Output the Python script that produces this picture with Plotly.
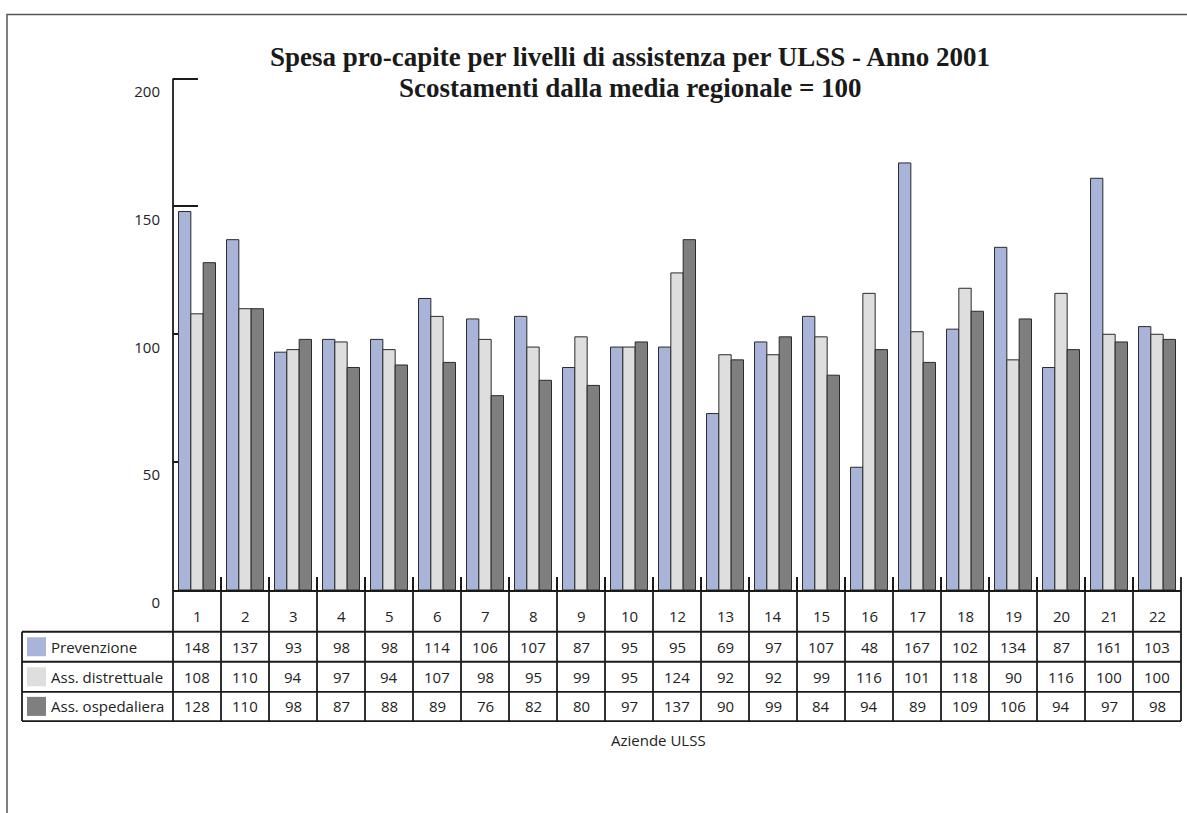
import plotly.graph_objects as go

# ---------------- data ----------------
categories = ["1", "2", "3", "4", "5", "6", "7", "8", "9", "10", "12", "13",
              "14", "15", "16", "17", "18", "19", "20", "21", "22"]
prevenzione = [148, 137, 93, 98, 98, 114, 106, 107, 87, 95, 95, 69, 97, 107,
               48, 167, 102, 134, 87, 161, 103]
distrettuale = [108, 110, 94, 97, 94, 107, 98, 95, 99, 95, 124, 92, 92, 99,
                116, 101, 118, 90, 116, 100, 100]
ospedaliera = [128, 110, 98, 87, 88, 89, 76, 82, 80, 97, 137, 90, 99, 84, 94,
               89, 109, 106, 94, 97, 98]
series_names = ["Prevenzione", "Ass. distrettuale", "Ass. ospedaliera"]
y_ticks = [0, 50, 100, 150, 200]
title_lines = ["Spesa pro-capite per livelli di assistenza per ULSS - Anno 2001",
               "Scostamenti dalla media regionale = 100"]
x_title = "Aziende ULSS"

# ---------------- styles ----------------
W, H = 1187, 813
Y_MAX = 201
L, R, B = 173, 1181, 590
Y_TOP = 79  # pixel row of the 200 tick
T = Y_TOP - (Y_MAX - 200) * (B - Y_TOP) / 200.0
colors = ["#A9B4D9", "#DEDEDE", "#7F7F7F"]
LINE = "#1a1a1a"
TXT = "#222222"
SANS = "Open Sans, Lato, sans-serif"
SERIF = "Liberation Serif, Times New Roman, serif"


def px(xp):
    return (xp - L) / (R - L)


def py(yp):
    return (B - yp) / (B - T)


fig = go.Figure()
for name, vals, c in zip(series_names, [prevenzione, distrettuale, ospedaliera], colors):
    fig.add_trace(go.Bar(
        x=categories, y=vals, name=name,
        marker=dict(color=c, line=dict(color="#2a2a2a", width=1)),
        hoverinfo="x+y+name",
    ))

shapes = []
annotations = []

# outer frame (extends past visible area)
shapes.append(dict(type="path", xref="paper", yref="paper",
                   path=f"M {px(7)} {py(830)} L {px(7)} {py(15)} L {px(1200)} {py(15)}",
                   line=dict(color="#555555", width=1.5)))

# table geometry
n = len(categories)
colw = (R - L) / n
row_lines = [631.7, 661.7, 691.7, 721]
row_centers = [646.7, 676.7, 706.3]
cat_center = 616

for yl in row_lines:
    shapes.append(dict(type="line", xref="paper", yref="paper",
                       x0=px(22), x1=px(R), y0=py(yl), y1=py(yl),
                       line=dict(color=LINE, width=1.8)))
shapes.append(dict(type="line", xref="paper", yref="paper",
                   x0=px(22), x1=px(22), y0=py(row_lines[0]), y1=py(row_lines[-1]),
                   line=dict(color=LINE, width=1.8)))
for k in range(n + 1):
    xl = L + k * colw
    if k == 0:
        top = Y_TOP  # value axis line continues into the table
    elif k == n:
        top = B - 13
    else:
        top = B
    shapes.append(dict(type="line", xref="paper", yref="paper",
                       x0=px(xl), x1=px(xl), y0=py(top), y1=py(row_lines[-1]),
                       line=dict(color=LINE, width=1.8)))

# category labels (index positions on the category axis)
for i, c in enumerate(categories):
    annotations.append(dict(x=i, xref="x", y=py(cat_center), yref="paper",
                            text=c, showarrow=False,
                            font=dict(family=SANS, size=15, color=TXT),
                            xanchor="center", yanchor="middle"))

for r, (name, vals, c) in enumerate(zip(series_names,
                                         [prevenzione, distrettuale, ospedaliera], colors)):
    yc = row_centers[r]
    shapes.append(dict(type="rect", xref="paper", yref="paper",
                       x0=px(27), x1=px(46), y0=py(yc - 9.5), y1=py(yc + 9.5),
                       fillcolor=c, line=dict(width=0)))
    annotations.append(dict(x=px(49), xref="paper", y=py(yc), yref="paper",
                            text=name, showarrow=False,
                            font=dict(family=SANS, size=15, color=TXT),
                            xanchor="left", yanchor="middle"))
    for i, v in enumerate(vals):
        annotations.append(dict(x=i, xref="x", y=py(yc), yref="paper",
                                text=str(v), showarrow=False,
                                font=dict(family=SANS, size=15, color=TXT),
                                xanchor="center", yanchor="middle"))

annotations.append(dict(x=px(658), xref="paper", y=py(740), yref="paper",
                        text=x_title, showarrow=False,
                        font=dict(family=SANS, size=15, color=TXT),
                        xanchor="center", yanchor="middle"))

# title (two lines)
for txt, yc in zip(title_lines, [57, 88]):
    annotations.append(dict(x=px(630), xref="paper", y=py(yc), yref="paper",
                            text="<b>" + txt + "</b>", showarrow=False,
                            font=dict(family=SERIF, size=27, color="#1a1a1a"),
                            xanchor="center", yanchor="middle"))

fig.update_layout(
    width=W, height=H,
    margin=dict(l=L, r=W - R, t=T, b=H - B, pad=0),
    paper_bgcolor="white", plot_bgcolor="white",
    barmode="group", bargap=0.23, bargroupgap=0.0,
    showlegend=False,
    shapes=shapes, annotations=annotations,
    xaxis=dict(type="category", showticklabels=False,
               ticks="inside", tickson="boundaries", ticklen=13,
               tickwidth=1.8, tickcolor=LINE,
               showline=True, linecolor=LINE, linewidth=1.8,
               showgrid=False, zeroline=False, layer="below traces"),
    yaxis=dict(range=[0, Y_MAX], tickvals=y_ticks,
               ticktext=[str(t) for t in y_ticks],
               ticks="inside", ticklen=25, tickwidth=1.8, tickcolor=LINE,
               showline=False,
               showgrid=False, zeroline=False, layer="below traces",
               tickfont=dict(family=SANS, size=15, color=TXT),
               ticklabelstandoff=12, ticklabelshift=13),
)

fig.write_html("out.html", config={"displayModeBar": False},
               post_script="document.body.style.margin='0px';")
